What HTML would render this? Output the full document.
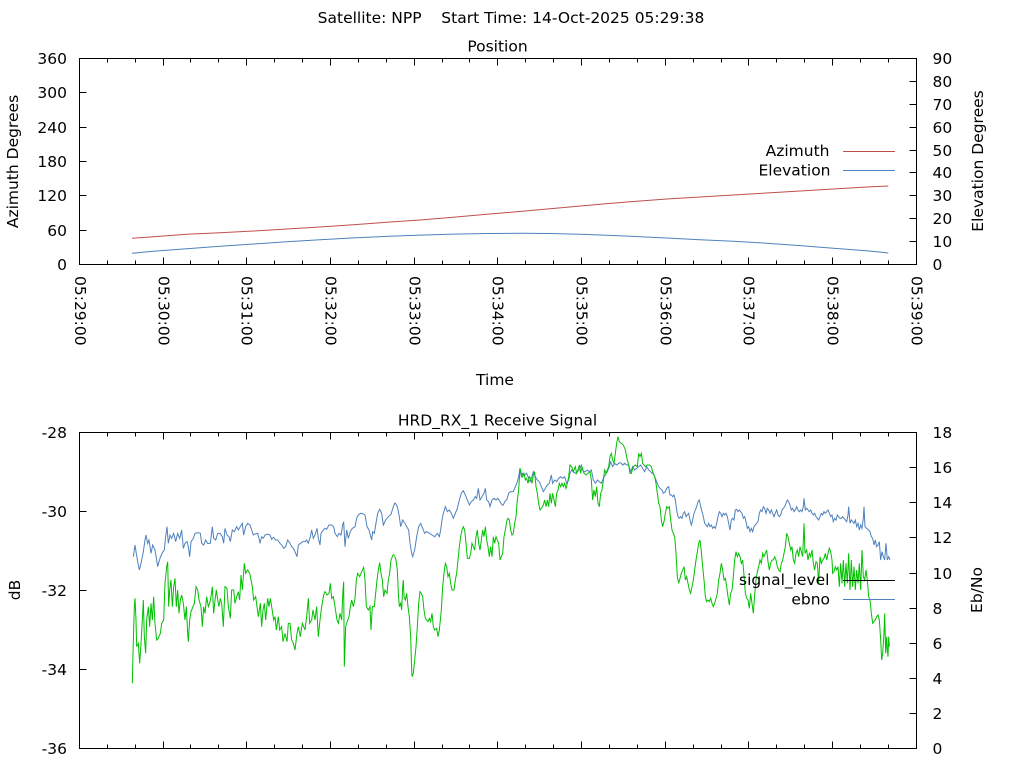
<!DOCTYPE html>
<html><head><meta charset="utf-8"><style>
html,body{margin:0;padding:0;background:#fff;}
svg{display:block;}
text{font-family:"DejaVu Sans","Liberation Sans",sans-serif;font-size:15.5px;fill:#000;}
</style></head><body>
<svg width="1024" height="768" viewBox="0 0 1024 768" xmlns="http://www.w3.org/2000/svg">
<rect width="1024" height="768" fill="#fff"/>

<!-- Titles -->
<text x="511" y="23" text-anchor="middle" style="white-space:pre" xml:space="preserve">Satellite: NPP    Start Time: 14-Oct-2025 05:29:38</text>
<text x="497.5" y="51.5" text-anchor="middle">Position</text>
<text x="497.5" y="425.5" text-anchor="middle">HRD_RX_1 Receive Signal</text>

<!-- ===== Top chart ===== -->
<g stroke="#000" stroke-width="1" fill="none" shape-rendering="crispEdges">
<rect x="79.5" y="58.5" width="837" height="206"/>
<path d="M79.5 264.5v-7M107.5 264.5v-4M135.5 264.5v-4M163.5 264.5v-7M190.5 264.5v-4M218.5 264.5v-4M246.5 264.5v-7M274.5 264.5v-4M302.5 264.5v-4M330.5 264.5v-7M358.5 264.5v-4M386.5 264.5v-4M414.5 264.5v-7M442.5 264.5v-4M469.5 264.5v-4M497.5 264.5v-7M525.5 264.5v-4M553.5 264.5v-4M581.5 264.5v-7M609.5 264.5v-4M637.5 264.5v-4M665.5 264.5v-7M693.5 264.5v-4M721.5 264.5v-4M748.5 264.5v-7M776.5 264.5v-4M804.5 264.5v-4M832.5 264.5v-7M860.5 264.5v-4M888.5 264.5v-4M916.5 264.5v-7"/>
<path d="M79.5 58.5v7M107.5 58.5v4M135.5 58.5v4M163.5 58.5v7M190.5 58.5v4M218.5 58.5v4M246.5 58.5v7M274.5 58.5v4M302.5 58.5v4M330.5 58.5v7M358.5 58.5v4M386.5 58.5v4M414.5 58.5v7M442.5 58.5v4M469.5 58.5v4M497.5 58.5v7M525.5 58.5v4M553.5 58.5v4M581.5 58.5v7M609.5 58.5v4M637.5 58.5v4M665.5 58.5v7M693.5 58.5v4M721.5 58.5v4M748.5 58.5v7M776.5 58.5v4M804.5 58.5v4M832.5 58.5v7M860.5 58.5v4M888.5 58.5v4M916.5 58.5v7"/>
<path d="M79.5 230.5h7M79.5 195.5h7M79.5 161.5h7M79.5 127.5h7M79.5 92.5h7"/>
<path d="M916.5 241.5h-7M916.5 218.5h-7M916.5 195.5h-7M916.5 172.5h-7M916.5 150.5h-7M916.5 127.5h-7M916.5 104.5h-7M916.5 81.5h-7"/>
</g>

<g text-anchor="end">
<text x="67" y="64">360</text>
<text x="67" y="98">300</text>
<text x="67" y="133">240</text>
<text x="67" y="167">180</text>
<text x="67" y="201">120</text>
<text x="67" y="236">60</text>
<text x="67" y="270">0</text>
</g>
<g text-anchor="start">
<text x="932.5" y="64">90</text>
<text x="932.5" y="87">80</text>
<text x="932.5" y="110">70</text>
<text x="932.5" y="133">60</text>
<text x="932.5" y="156">50</text>
<text x="932.5" y="178">40</text>
<text x="932.5" y="201">30</text>
<text x="932.5" y="224">20</text>
<text x="932.5" y="247">10</text>
<text x="932.5" y="270">0</text>
</g>
<text transform="translate(18,161.5) rotate(-90)" text-anchor="middle">Azimuth Degrees</text>
<text transform="translate(983,161) rotate(-90)" text-anchor="middle">Elevation Degrees</text>

<g>
<text transform="translate(74.8,276) rotate(90)">05:29:00</text>
<text transform="translate(158.7,276) rotate(90)">05:30:00</text>
<text transform="translate(241.7,276) rotate(90)">05:31:00</text>
<text transform="translate(325.7,276) rotate(90)">05:32:00</text>
<text transform="translate(409.7,276) rotate(90)">05:33:00</text>
<text transform="translate(492.7,276) rotate(90)">05:34:00</text>
<text transform="translate(576.7,276) rotate(90)">05:35:00</text>
<text transform="translate(660.7,276) rotate(90)">05:36:00</text>
<text transform="translate(743.7,276) rotate(90)">05:37:00</text>
<text transform="translate(827.7,276) rotate(90)">05:38:00</text>
<text transform="translate(911.7,276) rotate(90)">05:39:00</text>
</g>
<text x="495" y="385" text-anchor="middle">Time</text>

<polyline fill="none" stroke="#c0504d" stroke-width="1" points="132,238.3 153.3,236.7 186.7,234.3 220,232.7 253.3,231 286.7,229 320,227 353.3,224.7 386.7,222.3 420,220 453.3,217.3 486.7,214.3 533.3,210.3 566.7,207.3 600,204.3 633.3,201.5 666.7,199 700,197 733.3,195 766.7,193 800,191 833.3,189 866.7,187 888.3,186"/>
<polyline fill="none" stroke="#4f81bd" stroke-width="1" points="132,253.3 153.3,251.3 186.7,248.7 220,246.3 253.3,244 286.7,241.7 320,239.7 353.3,237.9 386.7,236.4 420,235.1 453.3,234.1 486.7,233.5 520,233.3 550,233.5 580,234.3 610,235.4 640,236.7 666.7,238 700,239.7 733.3,241.3 766.7,243.2 800,245.6 833.3,248.2 866.7,250.8 888.3,253"/>

<text x="829.5" y="156" text-anchor="end">Azimuth</text>
<text x="830.5" y="175.5" text-anchor="end">Elevation</text>
<path d="M843 151.5h52" stroke="#c0504d" stroke-width="1" shape-rendering="crispEdges"/>
<path d="M843 170.5h52" stroke="#4f81bd" stroke-width="1" shape-rendering="crispEdges"/>

<!-- ===== Bottom chart ===== -->
<g stroke="#000" stroke-width="1" fill="none" shape-rendering="crispEdges">
<rect x="79.5" y="432.5" width="837" height="316"/>
<path d="M79.5 748.5v-7M107.5 748.5v-4M135.5 748.5v-4M163.5 748.5v-7M190.5 748.5v-4M218.5 748.5v-4M246.5 748.5v-7M274.5 748.5v-4M302.5 748.5v-4M330.5 748.5v-7M358.5 748.5v-4M386.5 748.5v-4M414.5 748.5v-7M442.5 748.5v-4M469.5 748.5v-4M497.5 748.5v-7M525.5 748.5v-4M553.5 748.5v-4M581.5 748.5v-7M609.5 748.5v-4M637.5 748.5v-4M665.5 748.5v-7M693.5 748.5v-4M721.5 748.5v-4M748.5 748.5v-7M776.5 748.5v-4M804.5 748.5v-4M832.5 748.5v-7M860.5 748.5v-4M888.5 748.5v-4M916.5 748.5v-7"/>
<path d="M79.5 432.5v7M107.5 432.5v4M135.5 432.5v4M163.5 432.5v7M190.5 432.5v4M218.5 432.5v4M246.5 432.5v7M274.5 432.5v4M302.5 432.5v4M330.5 432.5v7M358.5 432.5v4M386.5 432.5v4M414.5 432.5v7M442.5 432.5v4M469.5 432.5v4M497.5 432.5v7M525.5 432.5v4M553.5 432.5v4M581.5 432.5v7M609.5 432.5v4M637.5 432.5v4M665.5 432.5v7M693.5 432.5v4M721.5 432.5v4M748.5 432.5v7M776.5 432.5v4M804.5 432.5v4M832.5 432.5v7M860.5 432.5v4M888.5 432.5v4M916.5 432.5v7"/>
<path d="M79.5 511.5h7M79.5 590.5h7M79.5 669.5h7"/>
<path d="M916.5 713.5h-7M916.5 678.5h-7M916.5 643.5h-7M916.5 608.5h-7M916.5 573.5h-7M916.5 537.5h-7M916.5 502.5h-7M916.5 467.5h-7"/>
</g>
<g text-anchor="end">
<text x="67" y="438">-28</text>
<text x="67" y="517">-30</text>
<text x="67" y="596">-32</text>
<text x="67" y="675">-34</text>
<text x="67" y="754">-36</text>
</g>
<g text-anchor="start">
<text x="932.5" y="438">18</text>
<text x="932.5" y="473">16</text>
<text x="932.5" y="508">14</text>
<text x="932.5" y="543">12</text>
<text x="932.5" y="579">10</text>
<text x="932.5" y="614">8</text>
<text x="932.5" y="649">6</text>
<text x="932.5" y="684">4</text>
<text x="932.5" y="719">2</text>
<text x="932.5" y="754">0</text>
</g>
<text transform="translate(20,590) rotate(-90)" text-anchor="middle">dB</text>
<text transform="translate(982,590) rotate(-90)" text-anchor="middle">Eb/No</text>

<g fill="none" stroke="#4f81bd" stroke-width="1">
<polyline vector-effect="non-scaling-stroke" transform="translate(125,480) scale(0.33333)" points="25,230 30,195 33,215 38,245 43,270 48,250 55,215 60,180 63,165 68,190 72,180 78,220 83,195 90,210 95,240 98,260 105,235 112,218 118,210 122,170 126,140 130,190 135,165 140,175 146,160 152,185 158,160 164,175 170,150 175,205 180,190 186,185 190,200 194,230 198,185 205,175 210,160 220,158 226,160 230,190 236,195 242,180 248,190 256,190 262,140 266,175 272,180 278,160 285,160 292,170 296,190 300,145 306,165 312,170 316,185 322,150 328,155 335,140 340,150 346,140 352,130 356,165 362,140 368,130 375,135 380,150 385,165 390,162 398,160 402,175 405,190 410,170 415,175 420,165 428,162 435,165 440,178 446,172 452,180 458,180 465,190 470,195 476,205 482,200 488,180 495,190 500,200 505,205 510,215 516,230 520,195 527,190 533,185 540,185 545,180 550,190 556,170 560,150 565,175 570,165 576,145 580,175 585,195 588,160 595,150 600,145 605,148 612,135 620,135 626,140 630,160 637,170 642,160 648,165 653,135 656,125 660,200 665,150 670,175 676,155 682,145 690,140 695,115 700,105 706,100 712,100 720,105 726,140 732,150 740,180 743,155 748,160 752,135 758,100 764,88 770,100 775,135 782,120 790,110 798,103 805,80 810,68"/>
<polyline vector-effect="non-scaling-stroke" transform="translate(390,430) scale(0.33333)" points="15,218 22,230 28,260 32,290 38,270 45,280 50,290 56,300 60,340 65,370 68,380 74,360 80,320 86,290 92,280 98,295 104,310 110,305 118,310 126,315 134,320 142,310 148,320 152,300 156,270 160,250 166,230 172,245 178,240 184,250 190,265 196,250 202,235 208,210 214,190 220,182 226,195 232,210 238,225 244,215 250,210 256,200 260,205 265,175 270,210 276,200 282,190 286,175 290,210 296,215 300,230 306,210 312,205 318,210 324,205 330,215 336,225 340,225 344,215 350,210 356,190 362,185 370,185 376,170 382,155 386,140 390,115 394,140 398,130 404,135 410,130 416,145 420,155 426,140 430,125 436,140 442,150 448,155 454,170 460,185 466,175 472,165 478,160 484,135 488,160 494,150 500,155 506,145 512,140 518,145 524,140 530,160 536,150 540,130 545,120 550,125 556,130 562,125 568,120 574,105 580,125 586,125 592,120 598,125 604,120 610,150 616,160 622,150 628,155 634,160 640,145 646,135 652,125 658,110 662,95 668,110 674,100 680,105 686,100 692,98 698,105 704,100 710,105 716,105 722,125 728,110 734,120 740,115 746,110 752,105 758,115 764,125 770,110 776,120 782,125 786,130 790,130 796,145 800,155 806,170 810,175"/>
<polyline vector-effect="non-scaling-stroke" transform="translate(650,480) scale(0.33333)" points="30,25 36,30 40,40 46,35 50,25 56,20 60,45 64,45 68,50 72,45 76,60 80,90 84,110 88,115 92,110 96,115 100,100 104,95 108,110 112,105 116,100 120,120 124,135 128,120 132,100 136,90 140,80 144,65 148,60 152,80 156,95 160,110 164,130 168,135 172,140 176,130 180,140 184,135 188,145 192,140 196,145 200,130 204,110 208,95 212,100 216,110 220,100 224,105 228,100 232,110 236,130 240,150 244,120 248,115 252,120 256,90 260,88 264,95 268,90 272,95 276,100 280,115 284,110 288,125 292,145 296,140 300,155 304,145 308,155 312,140 316,135 320,130 324,125 328,100 332,90 336,95 340,80 344,85 348,100 352,85 356,90 360,100 364,90 368,100 372,110 376,100 380,90 384,105 388,110 392,105 396,90 400,85 404,80 408,70 412,60 416,65 420,75 424,90 428,85 432,95 436,90 440,80 444,90 448,95 452,90 456,95 460,80 462,55 466,90 470,85 474,90 478,95 482,90 486,100 490,105 494,100 498,110 502,115 506,120 510,110 514,100 518,105 522,95 526,100 530,95 534,90 538,100 542,110 546,105 550,125 554,115 558,120 562,105 566,110 570,115 574,115 578,110 582,115 586,120 590,125 594,105 596,80 600,130 604,120 608,125 612,130 616,120 620,140 624,130 628,150 632,135 636,145 640,115 642,80 645,140 650,145 656,150 660,155 664,170 668,175 672,195 676,180 680,200 684,195 688,185 692,240 696,215 700,230 704,240 708,190 712,240 716,230 720,240"/>
</g>

<g fill="none" stroke="#00c000" stroke-width="1">
<polyline vector-effect="non-scaling-stroke" transform="translate(125,480) scale(0.33333)" points="22,610 24,520 28,380 30,355 33,420 35,500 40,490 44,550 48,490 52,420 55,360 58,470 62,520 65,420 70,380 74,440 78,370 82,420 86,350 90,430 95,480 100,475 106,460 110,430 116,420 120,310 125,260 128,245 131,380 134,330 138,300 142,380 146,320 150,295 154,380 158,330 162,400 166,360 170,345 175,370 180,420 184,380 188,460 190,485 194,420 198,395 204,380 208,370 213,320 218,330 222,360 228,380 232,440 236,380 240,400 245,350 250,380 254,370 258,350 262,320 266,400 270,360 274,330 278,360 282,380 286,355 290,370 295,440 300,320 306,325 310,380 316,415 320,330 326,330 330,370 335,350 340,335 344,360 348,285 352,330 358,250 362,280 368,270 374,280 378,300 382,320 386,360 392,350 396,380 400,410 406,370 410,440 414,390 418,370 422,420 428,355 432,380 436,355 440,380 446,420 450,410 454,450 460,410 464,450 470,440 474,485 480,460 486,485 490,430 495,430 500,480 505,490 510,510 516,460 520,440 526,470 532,430 540,450 546,400 550,355 554,430 560,420 564,390 570,420 575,380 580,470 585,420 590,380 596,345 600,335 606,345 612,340 616,310 620,355 625,350 630,380 636,420 640,430 645,400 650,420 654,330 656,305 658,560 662,440 668,420 672,410 676,380 680,360 685,380 690,355 694,300 698,280 704,290 710,275 716,262 720,300 724,380 730,390 735,380 738,450 742,380 748,380 752,340 756,300 760,270 764,248 768,280 772,300 776,350 780,330 786,340 790,300 794,280 798,240 804,225 810,225"/>
<polyline vector-effect="non-scaling-stroke" transform="translate(390,430) scale(0.33333)" points="14,378 18,390 22,420 25,490 28,530 32,520 35,540 38,470 40,450 42,500 46,510 50,490 54,530 58,560 62,620 64,690 66,740 70,730 74,690 78,650 82,590 86,520 90,485 94,490 98,500 102,540 106,565 110,570 114,575 118,565 122,575 126,550 130,590 134,600 140,595 144,620 148,600 150,580 154,540 158,470 162,430 166,400 170,410 174,440 178,430 182,460 186,480 192,480 196,450 200,430 204,390 208,350 212,320 216,300 220,290 224,300 228,340 232,385 238,385 242,370 246,340 250,350 254,360 258,320 262,300 266,340 270,360 274,330 278,300 282,320 286,290 290,330 294,350 298,380 302,350 306,380 310,320 314,340 318,320 322,330 326,340 330,390 334,380 338,370 342,320 346,300 350,275 354,265 358,270 362,300 366,315 370,310 374,280 378,260 382,210 386,180 390,115 394,130 398,140 402,130 406,150 410,145 414,160 418,140 422,145 426,160 430,135 434,125 438,170 442,190 446,220 450,240 454,235 460,225 464,210 468,230 472,210 476,230 480,190 484,220 488,190 492,210 496,230 500,190 504,180 508,160 512,170 516,160 520,170 524,160 528,175 532,160 536,140 540,105 545,110 550,125 556,110 560,130 564,120 568,105 572,130 576,110 582,130 588,135 594,130 600,125 604,150 608,210 612,180 616,200 620,170 624,220 628,230 632,190 636,180 640,150 644,120 648,130 652,120 656,110 660,80 664,70 668,90 672,100 676,70 680,40 684,20 688,35 694,40 700,45 706,60 712,90 716,105 720,130 724,130 730,110 736,105 742,110 746,70 750,80 754,70 758,100 762,105 766,110 772,105 778,105 784,110 788,125 794,140 798,160 802,190 806,220 810,230"/>
<polyline vector-effect="non-scaling-stroke" transform="translate(650,480) scale(0.33333)" points="30,80 34,120 38,140 42,125 46,100 50,80 54,85 58,80 62,120 66,150 70,160 74,170 78,220 82,290 86,310 90,295 94,280 98,270 102,260 106,300 110,290 114,310 118,330 122,340 126,320 130,300 134,270 138,240 142,215 146,190 150,180 154,215 158,260 162,300 166,350 170,365 174,360 178,365 182,355 186,370 190,380 194,370 198,355 202,340 206,300 210,280 214,250 218,270 222,300 226,295 230,320 234,350 238,375 242,340 246,330 250,290 254,240 258,215 262,230 266,220 270,230 274,250 278,240 282,285 286,340 290,355 294,360 298,385 302,340 306,370 310,400 314,345 318,300 322,275 326,260 330,240 334,250 338,220 342,230 346,220 350,210 354,245 358,270 362,250 366,240 370,240 374,230 378,240 382,260 386,270 390,275 394,250 398,240 402,220 406,200 410,160 414,170 418,190 422,210 426,200 430,240 434,250 438,220 442,210 446,230 450,200 454,215 458,230 462,130 465,220 470,210 474,240 478,220 482,230 486,210 490,250 494,270 498,245 502,250 506,310 510,230 514,250 518,240 522,235 526,220 530,240 534,220 538,205 542,215 546,240 548,280 552,275 556,260 560,270 564,260 568,320 572,250 576,310 580,240 584,320 588,250 592,310 596,220 600,330 604,240 608,320 612,260 616,330 620,270 624,310 628,250 632,330 636,210 640,290 644,300 648,270 652,300 656,350 660,360 664,400 668,430 672,425 676,420 680,410 684,405 688,420 692,480 695,540 698,520 702,460 704,400 707,520 710,470 712,510 714,530 716,470 718,500"/>
</g>

<text x="829.5" y="585" text-anchor="end">signal_level</text>
<text x="830" y="604.5" text-anchor="end">ebno</text>
<path d="M843 580.5h52" stroke="#000" stroke-width="1" shape-rendering="crispEdges"/>
<path d="M843 599.5h52" stroke="#4f81bd" stroke-width="1" shape-rendering="crispEdges"/>
</svg>
</body></html>
